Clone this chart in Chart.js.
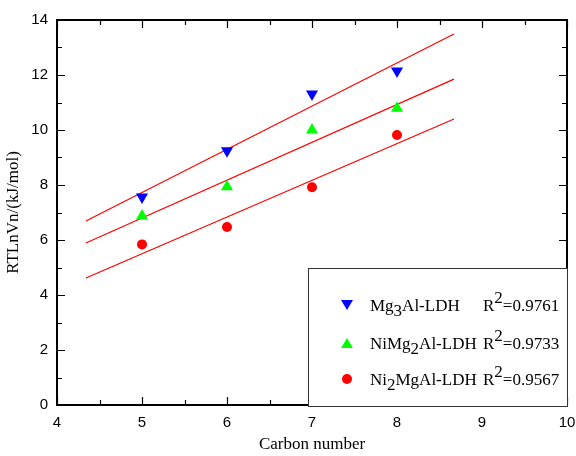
<!DOCTYPE html>
<html>
<head>
<meta charset="utf-8">
<script src="https://cdn.jsdelivr.net/npm/chart.js@4/dist/chart.umd.min.js"></script>
<style>
  html, body { margin: 0; padding: 0; background: #fff; }
  #wrap { width: 576px; height: 456px; }
</style>
</head>
<body>
<div id="wrap"><canvas id="chart" width="576" height="456"></canvas></div>
<script>
// carbon numbers and adsorption values
const carbon = [5, 6, 7, 8]
const mg3Al = [7.56, 9.25, 11.31, 12.15]
const niMg2Al = [6.87, 7.94, 10.0, 10.79]
const ni2MgAl = [5.84, 6.47, 7.92, 9.82]

// fitted lines, ends
const fitX = [4.34, 8.67]
const fitMg3Al = [6.69, 13.49]
const fitNiMg2Al = [5.89, 11.85]
const fitNi2MgAl = [4.62, 10.4]

const seriesNames = ['Mg3Al-LDH', 'NiMg2Al-LDH', 'Ni2MgAl-LDH']
const r2Values = ['0.9761', '0.9733', '0.9567']

const xMin = 4, xMax = 10, xStep = 1
const yMin = 0, yMax = 14, yStep = 2

const pts = ys => carbon.map((c, i) => ({ x: c, y: ys[i] }))
const fit = ys => fitX.map((c, i) => ({ x: c, y: ys[i] }))

const serif = "'Liberation Serif', 'Times New Roman', serif"
const sans = "'Liberation Sans', Arial, sans-serif"

// inward major/minor ticks on all four sides plus the frame
const framePlugin = {
  id: 'frame',
  afterDatasetsDraw(chart) {
    const { ctx, chartArea: a, scales } = chart
    ctx.save()
    ctx.strokeStyle = '#000'
    ctx.lineWidth = 1.2
    for (let v = xMin; v <= xMax + 1e-9; v += xStep / 2) {
      const px = Math.round(scales.x.getPixelForValue(v)) + 0.5
      const major = Math.abs(v - Math.round(v)) < 1e-9
      const len = major ? 8 : 5
      ctx.beginPath()
      ctx.moveTo(px, a.bottom); ctx.lineTo(px, a.bottom - len)
      ctx.moveTo(px, a.top); ctx.lineTo(px, a.top + len)
      ctx.stroke()
    }
    for (let v = yMin; v <= yMax + 1e-9; v += yStep / 2) {
      const py = Math.round(scales.y.getPixelForValue(v)) + 0.5
      const major = Math.abs(v / yStep - Math.round(v / yStep)) < 1e-9
      const len = major ? 8 : 5
      ctx.beginPath()
      ctx.moveTo(a.left, py); ctx.lineTo(a.left + len, py)
      ctx.moveTo(a.right, py); ctx.lineTo(a.right - len, py)
      ctx.stroke()
    }
    ctx.lineWidth = 2
    ctx.strokeRect(a.left, a.top, a.right - a.left, a.bottom - a.top)
    ctx.restore()
  },
}

// legend with sub/superscripts, drawn over the plot corner
function drawRich(ctx, text, x, y, size) {
  let cx = x
  for (let i = 0; i < text.length; i++) {
    const ch = text[i]
    const sub = /[0-9]/.test(ch) && i > 0 && /[a-zA-Z]/.test(text[i - 1])
    ctx.fillText(ch, cx, sub ? y + size * 0.3 : y)
    cx += ctx.measureText(ch).width
  }
  return cx
}

const legendPlugin = {
  id: 'richLegend',
  afterDraw(chart) {
    const { ctx, chartArea: a } = chart
    const box = { left: 308, top: 268, right: a.right + 1, bottom: a.bottom + 2 }
    ctx.save()
    ctx.fillStyle = '#fff'
    ctx.fillRect(box.left, box.top, box.right - box.left, box.bottom - box.top)
    ctx.strokeStyle = '#333'
    ctx.lineWidth = 1
    ctx.strokeRect(box.left + 0.5, box.top + 0.5, box.right - box.left - 1, box.bottom - box.top - 1)
    const size = 17
    ctx.font = `${size}px ${serif}`
    ctx.textBaseline = 'alphabetic'
    const rows = [305, 343, 379]
    seriesNames.forEach((name, i) => {
      const ds = chart.data.datasets[i]
      const cy = rows[i]
      const mx = 347
      ctx.fillStyle = ds.backgroundColor
      ctx.beginPath()
      if (ds.pointStyle === 'circle') {
        ctx.arc(mx, cy, 5, 0, Math.PI * 2)
      } else if (ds.rotation === 180) {
        ctx.moveTo(mx - 6, cy - 5); ctx.lineTo(mx + 6, cy - 5); ctx.lineTo(mx, cy + 5)
      } else {
        ctx.moveTo(mx - 6, cy + 5); ctx.lineTo(mx + 6, cy + 5); ctx.lineTo(mx, cy - 5)
      }
      ctx.closePath()
      ctx.fill()
      ctx.fillStyle = '#000'
      const base = cy + 6
      const end = drawRich(ctx, name, 370, base, size)
      let rx = Math.max(end + 3, 483)
      ctx.fillText('R', rx, base)
      rx += ctx.measureText('R').width
      ctx.fillText('2', rx, base - size * 0.45)
      rx += ctx.measureText('2').width
      ctx.fillText('=' + r2Values[i], rx, base)
    })
    ctx.restore()
  },
}

new Chart(document.getElementById('chart'), {
  type: 'scatter',
  data: {
    datasets: [
      { label: seriesNames[0], data: pts(mg3Al), pointStyle: 'triangle', rotation: 180, pointRadius: 7, pointHoverRadius: 7,
        backgroundColor: '#0000ff', borderColor: '#0000ff', borderWidth: 0 },
      { label: seriesNames[1], data: pts(niMg2Al), pointStyle: 'triangle', rotation: 0, pointRadius: 7, pointHoverRadius: 7,
        backgroundColor: '#00ff00', borderColor: '#00ff00', borderWidth: 0 },
      { label: seriesNames[2], data: pts(ni2MgAl), pointStyle: 'circle', pointRadius: 5, pointHoverRadius: 5,
        backgroundColor: '#ff0000', borderColor: '#ff0000', borderWidth: 0 },
      { type: 'line', label: 'fit1', data: fit(fitMg3Al), showLine: true, pointRadius: 0, borderColor: '#ff0000', borderWidth: 1.2 },
      { type: 'line', label: 'fit2', data: fit(fitNiMg2Al), showLine: true, pointRadius: 0, borderColor: '#ff0000', borderWidth: 1.2 },
      { type: 'line', label: 'fit3', data: fit(fitNi2MgAl), showLine: true, pointRadius: 0, borderColor: '#ff0000', borderWidth: 1.2 },
    ],
  },
  options: {
    responsive: false,
    animation: false,
    events: [],
    layout: { padding: { top: 20, right: 9, left: 0, bottom: 0 } },
    plugins: { legend: { display: false }, tooltip: { enabled: false } },
    scales: {
      x: {
        type: 'linear', min: xMin, max: xMax,
        afterFit: s => { s.height = 51; s.paddingLeft = 0; s.paddingRight = 0 },
        grid: { display: false, drawTicks: false },
        border: { display: false },
        ticks: { stepSize: xStep, padding: 9, color: '#000', font: { family: sans, size: 15 } },
        title: { display: true, text: 'Carbon number', color: '#000', padding: { top: 0, bottom: 1 },
          font: { family: serif, size: 17 } },
      },
      y: {
        type: 'linear', min: yMin, max: yMax,
        afterFit: s => { s.width = 57; s.paddingTop = 0; s.paddingBottom = 0 },
        grid: { display: false, drawTicks: false },
        border: { display: false },
        ticks: { stepSize: yStep, padding: 9, color: '#000', font: { family: sans, size: 15 } },
        title: { display: true, text: 'RTLnVn/(kJ/mol)', color: '#000', padding: { top: 3, bottom: 0 },
          font: { family: serif, size: 17 } },
      },
    },
  },
  plugins: [framePlugin, legendPlugin],
})
</script>
</body>
</html>
